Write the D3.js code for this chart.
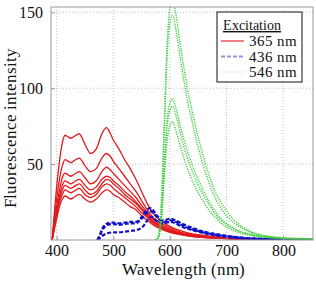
<!DOCTYPE html>
<html>
<head>
<meta charset="utf-8">
<script src="https://cdn.jsdelivr.net/npm/d3@7"></script>
<style>
  @font-face {
    font-family: "ChartSerif";
    src: local("Liberation Serif"), local("LiberationSerif"), local("LiberationSerif-Regular"), local("Times New Roman");
  }
</style>
</head>
<body style="margin:0">
<svg id="chart" width="316" height="281"></svg>
<script>
// emission spectra, excitation 365 nm
const redWl = [392, 400, 405, 410, 415, 420, 425, 430, 440, 450, 460, 470, 480, 488, 495, 500, 510, 520, 530, 540, 550, 560, 570, 580, 600, 620, 640, 660, 680, 700, 750, 800, 853];
const red1 = [0, 35, 52, 64, 69, 68, 67, 68, 70, 63, 57, 60, 70, 74, 70, 66, 60, 53, 47, 40, 32, 24, 18, 14, 9, 6, 4, 3, 2, 1.5, 0.8, 0.3, 0];
const red2 = [0, 27, 40, 49, 53, 52, 51, 52, 54, 49, 45, 47, 54, 57, 55, 52, 47, 42, 37, 32, 26, 20, 15, 12, 8, 5, 3.5, 2.5, 1.8, 1.3, 0.7, 0.3, 0];
const red3 = [0, 22, 33, 41, 44, 43, 42, 43, 45, 41, 37, 39, 45, 48, 46, 44, 40, 36, 32, 28, 23, 18, 14, 11, 7, 4.5, 3, 2.2, 1.6, 1.2, 0.6, 0.3, 0];
const red4 = [0, 19, 29, 36, 39, 38, 37, 38, 40, 36, 33, 35, 40, 42, 41, 39, 36, 32, 29, 25, 21, 17, 13, 10, 6.5, 4.2, 2.8, 2, 1.5, 1.1, 0.6, 0.3, 0];
const red5 = [0, 18, 27, 33, 36, 35, 34, 35, 37, 33, 30, 32, 37, 40, 39, 37, 34, 30, 27, 24, 20, 16, 12, 9.5, 6, 4, 2.6, 1.9, 1.4, 1, 0.5, 0.2, 0];
const red6 = [0, 16, 25, 30, 33, 32, 31, 32, 34, 30, 28, 30, 35, 37, 36, 34, 31, 28, 25, 22, 18, 15, 11, 9, 5.5, 3.7, 2.4, 1.8, 1.3, 1, 0.5, 0.2, 0];
const red7 = [0, 14, 22, 27, 29, 28, 27, 28, 30, 27, 25, 27, 31, 33, 32, 30, 28, 25, 22, 20, 16, 13, 10, 8, 5, 3.4, 2.2, 1.6, 1.2, 0.9, 0.4, 0.2, 0];

// excitation 436 nm
const blueWl = [472, 476, 480, 490, 500, 510, 520, 530, 540, 550, 555, 560, 565, 570, 575, 580, 585, 590, 600, 610, 620, 640, 660, 680, 700, 730, 760, 800, 853];
const blue1 = [0, 3, 7, 11, 11.5, 11, 11.5, 12, 12, 15, 18, 20, 21, 20, 17, 15, 13, 13, 14, 13, 11, 8, 5.5, 4, 2.8, 1.5, 0.8, 0.3, 0];
const blue2 = [0, 2.5, 6, 10, 10.5, 10, 10.5, 11, 11, 14, 16, 18, 19, 18, 16, 14, 12, 12, 13, 12, 10, 7, 5, 3.5, 2.5, 1.3, 0.7, 0.3, 0];
const blue3 = [0, 1, 2.5, 4.5, 5, 5, 5.5, 6, 6.5, 8, 10, 13, 15, 15, 13, 12, 11, 11, 12, 11, 9, 6.5, 4.5, 3, 2, 1, 0.5, 0.2, 0];

// excitation 546 nm
const greenWl = [575, 580, 585, 590, 595, 600, 605, 610, 620, 630, 640, 650, 660, 670, 680, 690, 700, 720, 740, 760, 780, 800, 830, 853];
const green1 = [0, 3, 25, 75, 128, 152, 158, 150, 125, 102, 84, 68, 54, 42, 32, 25, 19, 11, 6, 3.5, 2.2, 1.5, 1, 0.8];
const green2 = [0, 3, 22, 70, 120, 143, 148, 140, 116, 94, 77, 61, 48, 37, 28, 21, 16, 9.5, 5.5, 3.2, 2, 1.3, 0.9, 0.7];
const green3 = [0, 2, 15, 48, 78, 90, 93, 88, 73, 60, 49, 40, 32, 25, 19, 14, 11, 6.5, 4, 2.5, 1.6, 1.1, 0.8, 0.6];
const green4 = [0, 2, 14, 45, 74, 85, 88, 83, 68, 55, 45, 36, 29, 23, 17, 13, 10, 6, 3.7, 2.3, 1.5, 1, 0.7, 0.5];
const green5 = [0, 2, 12, 40, 65, 75, 78, 73, 60, 48, 39, 31, 25, 19, 15, 11, 8.5, 5, 3.2, 2, 1.3, 0.9, 0.6, 0.5];

const xTicks = [400, 500, 600, 700, 800];
const yTicks = [50, 100, 150];
const legendLabels = ["365 nm", "436 nm", "546 nm"];

const groups = [
    {wl: redWl, series: [red1, red2, red3, red4, red5, red6, red7], color: "#e3191c", dash: null, width: 1.3},
    {wl: blueWl, series: [blue1, blue2, blue3], color: "#1010c8", dash: "4,2", width: 2.2},
    {wl: greenWl, series: [green1, green2, green3, green4, green5], color: "#3ccc3c", dash: "1.2,1.2", width: 1.4}
];

let dimension = {
    width: 316,
    height: 281,
    margin: {top: 7, left: 51, bottom: 41, right: 3}
};
dimension.boundedWidth = dimension.width - dimension.margin.left - dimension.margin.right;
dimension.boundedHeight = dimension.height - dimension.margin.top - dimension.margin.bottom;

const serif = "ChartSerif, 'Liberation Serif', 'Times New Roman', Times, serif";

const wrapper = d3.select("#chart");

const bounded = wrapper.append("g")
    .attr("transform", `translate(${dimension.margin.left},${dimension.margin.top})`);

const xScaler = d3.scaleLinear()
    .domain([390, 853])
    .range([0, dimension.boundedWidth]);

const yScaler = d3.scaleLinear()
    .domain([0, 153.5])
    .range([dimension.boundedHeight, 0]);

// grid
bounded.append("g").selectAll("line")
    .data(xTicks)
    .join("line")
    .attr("x1", d => xScaler(d)).attr("x2", d => xScaler(d))
    .attr("y1", 0).attr("y2", dimension.boundedHeight)
    .attr("stroke", "#b0b0b0").attr("stroke-width", 0.8)
    .attr("stroke-dasharray", "1,2");

bounded.append("g").selectAll("line")
    .data(yTicks)
    .join("line")
    .attr("x1", 0).attr("x2", dimension.boundedWidth)
    .attr("y1", d => yScaler(d)).attr("y2", d => yScaler(d))
    .attr("stroke", "#b0b0b0").attr("stroke-width", 0.8)
    .attr("stroke-dasharray", "1,2");

wrapper.append("defs").append("clipPath").attr("id", "clip")
    .append("rect")
    .attr("width", dimension.boundedWidth)
    .attr("height", dimension.boundedHeight);

const lineGen = wl => d3.line()
    .x((d, i) => xScaler(wl[i]))
    .y(d => yScaler(d))
    .curve(d3.curveMonotoneX);

const plot = bounded.append("g").attr("clip-path", "url(#clip)");

groups.forEach(g => {
    plot.append("g").selectAll("path")
        .data(g.series)
        .join("path")
        .attr("d", lineGen(g.wl))
        .attr("fill", "none")
        .attr("stroke", g.color)
        .attr("stroke-width", g.width)
        .attr("stroke-dasharray", g.dash);
});

// frame
bounded.append("rect")
    .attr("width", dimension.boundedWidth)
    .attr("height", dimension.boundedHeight)
    .attr("fill", "none")
    .attr("stroke", "#999")
    .attr("stroke-width", 1);

const xAxisGen = d3.axisBottom(xScaler).tickValues(xTicks).tickSize(-4).tickPadding(5);
const xAxis = bounded.append("g")
    .attr("transform", `translate(0,${dimension.boundedHeight})`)
    .call(xAxisGen);

const yAxisGen = d3.axisLeft(yScaler).tickValues(yTicks).tickSize(-4).tickPadding(8);
const yAxis = bounded.append("g").call(yAxisGen);

[xAxis, yAxis].forEach(a => {
    a.attr("font-family", serif).attr("font-size", 16);
    a.select(".domain").remove();
    a.selectAll(".tick line").attr("stroke", "#999");
    a.selectAll("text").style("font-family", serif).attr("fill", "#111");
});

wrapper.append("text")
    .attr("x", 183)
    .attr("y", 275)
    .attr("text-anchor", "middle")
    .style("font-family", serif)
    .attr("font-size", 17)
    .attr("fill", "#111")
    .text("Wavelength (nm)");

wrapper.append("text")
    .attr("transform", `translate(16,128) rotate(-90)`)
    .attr("text-anchor", "middle")
    .style("font-family", serif)
    .attr("font-size", 16.5)
    .attr("fill", "#111")
    .text("Fluorescence intensity");

// legend
const legend = wrapper.append("g").attr("transform", "translate(217,12)");
legend.append("rect")
    .attr("width", 85).attr("height", 70)
    .attr("fill", "#fff").attr("stroke", "#111").attr("stroke-width", 1);
legend.append("text")
    .attr("x", 6).attr("y", 18)
    .style("font-family", serif)
    .attr("font-size", 14)
    .attr("fill", "#111")
    .attr("text-decoration", "underline")
    .text("Excitation");

const legendItem = legend.selectAll(".item")
    .data(legendLabels)
    .join("g")
    .attr("class", "item")
    .attr("transform", (d, i) => `translate(0,${29 + i * 15.5})`);

legendItem.append("line")
    .attr("x1", 4).attr("x2", 27)
    .attr("stroke", (d, i) => groups[i].color)
    .attr("stroke-opacity", (d, i) => [0.55, 0.45, 0.2][i])
    .attr("stroke-width", 2)
    .attr("stroke-dasharray", (d, i) => groups[i].dash);

legendItem.append("text")
    .attr("x", 32).attr("y", 5)
    .style("font-family", serif)
    .attr("font-size", 15)
    .attr("fill", "#111")
    .text(d => d);
</script>
</body>
</html>
